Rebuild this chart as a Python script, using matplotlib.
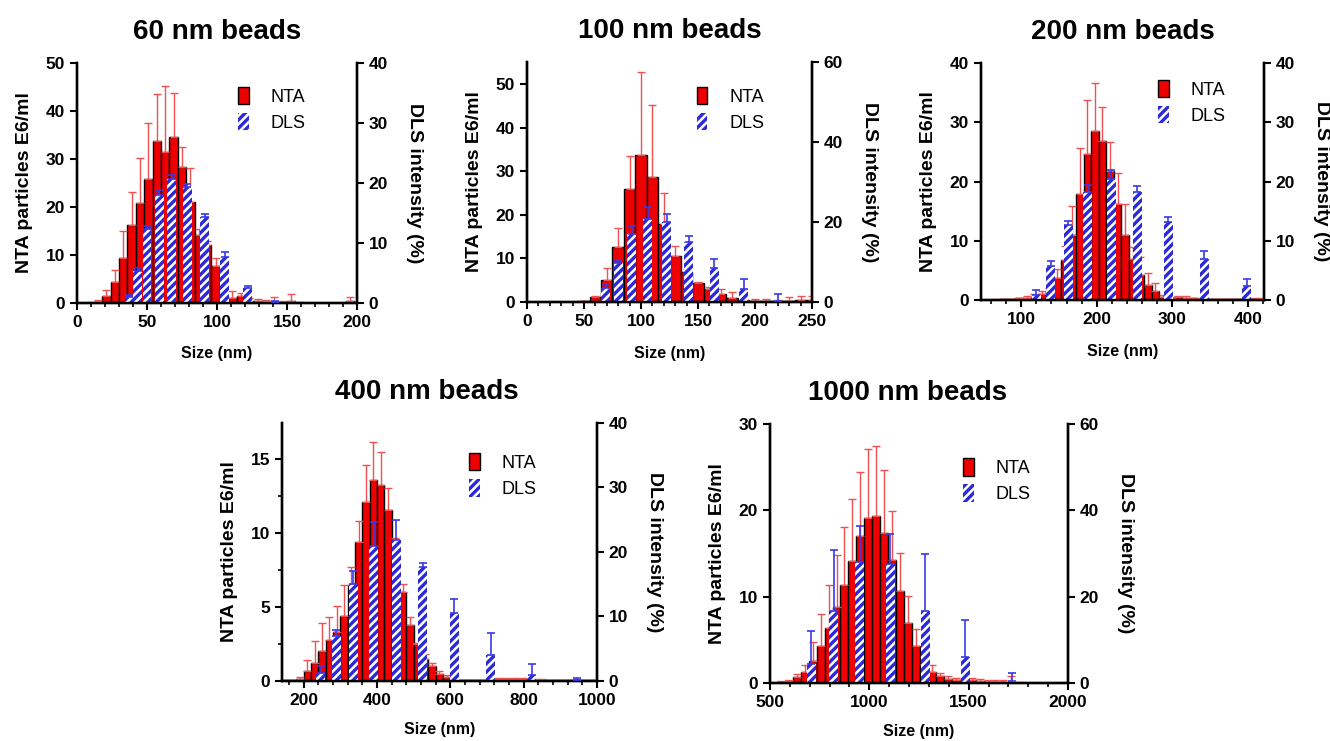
import matplotlib
matplotlib.use("Agg")
import matplotlib.pyplot as plt
from matplotlib.patches import Patch
from matplotlib.ticker import MultipleLocator
import numpy as np

plt.rcParams["font.family"] = ["Liberation Sans", "DejaVu Sans"]
plt.rcParams["hatch.linewidth"] = 2.4

RED = "#ee0000"
RED_ERR = "#f05050"
BLUE = "#2a2ad8"
BLUE_ERR = "#3a3ae6"

# ---- 60 nm beads ----
nta60_x = [9, 15, 21, 27, 33, 39, 45, 51, 57, 63, 69, 75, 81, 87, 93, 99, 105, 111,
           117, 123, 129, 135, 141, 147, 153, 159, 165, 171, 177, 183, 189, 195]
nta60_y = [0.1, 0.3, 1.5, 4.3, 9.4, 16.2, 20.8, 25.8, 33.7, 31.4, 34.5, 28.3, 21.0,
           14.2, 12.0, 7.8, 0.3, 1.0, 1.4, 0.3, 0.5, 0.3, 0.3, 0.2, 0.5, 0.1, 0.05,
           0.05, 0.05, 0.05, 0.05, 0.4]
nta60_top = [0.2, 0.6, 2.8, 6.8, 14.9, 23.1, 30.3, 37.4, 43.6, 45.3, 43.8, 32.4, 28.1,
             15.5, 13.0, 9.3, 0.5, 2.6, 2.0, 1.0, 0.8, 0.6, 1.2, 0.5, 1.8, 0.3, 0.1,
             0.1, 0.1, 0.1, 0.1, 1.2]
dls60_x = [37.4, 43.4, 50.0, 58.6, 67.6, 78.8, 91.1, 105.4, 122.0, 141.5]
dls60_y = [1.0, 5.4, 12.4, 18.0, 20.6, 19.4, 14.4, 7.7, 2.45, 0.2]
dls60_top = [1.4, 5.9, 12.8, 18.8, 21.4, 19.8, 14.8, 8.5, 2.9, 0.4]

# ---- 100 nm beads ----
nta100_x = [50, 60, 70, 80, 90, 100, 110, 120, 130, 140, 150, 160, 170, 180, 190,
            200, 210, 220, 230, 240, 250]
nta100_y = [0.2, 1.2, 5.0, 12.6, 26.0, 33.7, 28.6, 18.0, 10.6, 7.0, 4.4, 3.0, 1.8,
            1.0, 0.4, 0.3, 0.3, 0.3, 0.3, 0.5, 0.5]
nta100_top = [0.3, 1.4, 7.9, 17.1, 33.5, 52.7, 45.2, 25.1, 12.9, 7.5, 4.6, 3.5, 3.0,
              2.2, 0.6, 0.6, 0.6, 0.5, 1.2, 1.3, 1.3]
dls100_x = [69.2, 80.0, 91.8, 105.8, 122.5, 142.1, 164.4, 190.2, 220.0]
dls100_y = [3.5, 9.8, 17.1, 20.8, 20.0, 15.0, 8.6, 3.2, 0.3]
dls100_top = [4.4, 10.6, 19.0, 23.8, 21.9, 16.4, 10.8, 5.7, 1.9]

# ---- 200 nm beads ----
nta200_x = [67.5, 77.5, 87.5, 97.5, 107.5, 117.5, 127.5, 137.5, 147.5, 157.5, 167.5,
            177.5, 187.5, 197.5, 207.5, 217.5, 227.5, 237.5, 247.5, 257.5, 267.5,
            277.5, 287.5, 297.5, 307.5, 317.5, 327.5, 337.5, 347.5, 357.5, 367.5,
            377.5, 387.5, 397.5, 407.5, 417.5]
nta200_y = [0.05, 0.1, 0.1, 0.3, 0.4, 0.5, 1.0, 1.3, 3.8, 6.7, 11.0, 17.9, 24.7, 28.5,
            26.9, 21.8, 16.2, 11.0, 7.0, 4.2, 2.6, 1.6, 0.5, 0.3, 0.5, 0.4, 0.3, 0.2,
            0.1, 0.1, 0.1, 0.1, 0.1, 0.1, 0.2, 0.2]
nta200_top = [0.1, 0.2, 0.2, 0.4, 0.6, 1.0, 1.5, 2.0, 5.3, 9.1, 15.8, 25.6, 33.7, 36.6,
              32.5, 26.6, 21.4, 16.2, 9.0, 7.3, 4.6, 2.9, 0.8, 0.5, 0.7, 0.6, 0.4,
              0.3, 0.2, 0.2, 0.2, 0.2, 0.2, 0.2, 0.3, 0.3]
dls200_x = [119.8, 139.2, 162.5, 188.1, 218.9, 253.7, 294.7, 342.3, 398.3]
dls200_y = [0.85, 5.8, 12.7, 18.3, 20.4, 18.2, 13.2, 7.0, 2.3]
dls200_top = [1.7, 6.6, 13.4, 19.5, 22.0, 19.2, 14.0, 8.3, 3.5]

# ---- 400 nm beads ----
nta400_x = [150, 170, 190, 210, 230, 250, 270, 290, 310, 330, 350, 370, 390, 410, 430,
            450, 470, 490, 510, 530, 550, 570, 590, 610, 630, 650, 670, 690, 710, 730,
            750, 770, 790, 810, 830, 850, 870, 890, 910, 930, 950, 970, 990]
nta400_y = [0.05, 0.05, 0.16, 0.68, 1.2, 2.0, 2.8, 3.3, 4.4, 6.5, 9.4, 12.1, 13.6, 13.3,
            11.6, 8.5, 6.0, 3.8, 2.5, 1.5, 1.0, 0.5, 0.3, 0.1, 0.05, 0.05, 0.05, 0.05,
            0.1, 0.15, 0.15, 0.15, 0.15, 0.15, 0.1, 0.1, 0.05, 0.05, 0.05, 0.05, 0.05,
            0.05, 0.05]
nta400_top = [0.1, 0.1, 0.3, 1.4, 2.7, 3.9, 4.3, 5.1, 6.5, 7.7, 10.8, 14.6, 16.2, 15.5,
              13.1, 9.7, 6.6, 4.3, 2.6, 1.8, 1.2, 0.7, 0.4, 0.2, 0.1, 0.1, 0.1, 0.1,
              0.15, 0.2, 0.2, 0.2, 0.2, 0.2, 0.15, 0.15, 0.1, 0.1, 0.1, 0.1, 0.1,
              0.1, 0.1]
dls400_x = [247, 289, 335, 391, 453, 525, 611, 711, 822, 945]
dls400_y = [1.25, 6.95, 15.1, 21.0, 21.9, 17.6, 10.5, 4.0, 0.9, 0.1]
dls400_top = [2.3, 7.9, 17.0, 24.6, 25.0, 18.3, 12.7, 7.5, 2.6, 0.4]

# ---- 1000 nm beads ----
nta1000_x = [555, 595, 635, 675, 715, 755, 795, 835, 875, 915, 955, 995, 1035, 1075,
             1115, 1155, 1195, 1235, 1275, 1315, 1355, 1395, 1435, 1475, 1515, 1555,
             1595, 1635, 1675, 1715, 1755]
nta1000_y = [0.1, 0.2, 0.7, 1.3, 2.5, 4.3, 6.4, 8.8, 11.3, 14.1, 17.0, 19.1, 19.3, 17.4,
             14.2, 10.6, 7.0, 4.3, 2.2, 1.3, 0.8, 0.5, 0.4, 0.3, 0.3, 0.2, 0.15, 0.1,
             0.1, 0.1, 0.05]
nta1000_top = [0.2, 0.4, 1.0, 2.1, 4.7, 8.0, 11.3, 14.8, 18.1, 21.3, 24.4, 27.1, 27.5,
               24.7, 19.9, 15.0, 10.1, 6.3, 3.0, 2.05, 1.1, 0.8, 0.6, 0.5, 0.6, 0.5,
               0.4, 0.3, 0.3, 0.8, 0.1]
dls1000_x = [707, 822, 953, 1105, 1281, 1482, 1718]
dls1000_y = [4.3, 16.6, 28.1, 27.5, 16.6, 6.0, 0.5]
dls1000_top = [12.0, 30.8, 36.4, 34.4, 29.8, 14.7, 2.2]


def draw_panel(rect, title, title_x, nta, dls, nta_w, dls_w, xlim, xmajor, xminor,
               ylim, yticks, y2lim, y2ticks, leg_xy, yminor=None, xpad=12):
    ax = fig.add_axes(rect)
    nx, ny, ntop = (np.array(v, dtype=float) for v in nta)
    dx, dy, dtop = (np.array(v, dtype=float) for v in dls)

    # NTA: rote Balken, Fehlerbalken nur nach oben
    ax.bar(nx, ny, width=nta_w, color=RED, edgecolor="black", linewidth=1.0, zorder=2)
    ax.errorbar(nx, ny, yerr=[np.zeros_like(ny), ntop - ny], fmt="none", ecolor=RED_ERR,
                elinewidth=1.0, capsize=3, capthick=1.0, zorder=3)

    # DLS auf der rechten Achse, weiss hinterlegt und schraffiert
    ax2 = ax.twinx()
    ax2.bar(dx, dy, width=dls_w, color="white", edgecolor=BLUE, hatch="////",
            linewidth=0, zorder=2)
    ax2.errorbar(dx, dy, yerr=[np.zeros_like(dy), dtop - dy], fmt="none",
                 ecolor=BLUE_ERR, elinewidth=1.2, capsize=3, capthick=1.2, zorder=3)

    ax.set_xlim(*xlim)
    ax.set_ylim(*ylim)
    ax2.set_ylim(*y2lim)
    ax.set_yticks(yticks)
    ax2.set_yticks(y2ticks)
    ax.xaxis.set_major_locator(MultipleLocator(xmajor))
    ax.xaxis.set_minor_locator(MultipleLocator(xminor))
    if yminor:
        ax.yaxis.set_minor_locator(MultipleLocator(yminor))

    for a in (ax, ax2):
        a.spines["top"].set_visible(False)
        for s in ("left", "right", "bottom"):
            a.spines[s].set_linewidth(1.7)
        a.tick_params(which="major", direction="out", length=5, width=1.5,
                      labelsize=12.5)
        a.tick_params(which="minor", direction="out", length=3, width=1.2)
        for lab in a.get_xticklabels() + a.get_yticklabels():
            lab.set_fontweight("bold")

    ax.set_xlabel("Size (nm)", fontsize=11.5, fontweight="bold", labelpad=xpad)
    ax.set_ylabel("NTA particles E6/ml", fontsize=14, fontweight="bold", labelpad=9)
    ax2.set_ylabel("DLS intensity (%)", fontsize=14, fontweight="bold",
                   rotation=270, labelpad=25)
    ax.set_title(title, fontsize=20, fontweight="bold", x=title_x, pad=17)

    handles = [Patch(facecolor=RED, edgecolor="black", linewidth=1.0),
               Patch(facecolor="white", edgecolor=BLUE, hatch="////", linewidth=0)]
    ax2.legend(handles, ["NTA", "DLS"], loc="upper left", bbox_to_anchor=leg_xy,
               frameon=False, fontsize=13, handlelength=0.6, handleheight=1.1,
               handletextpad=1.2, labelspacing=0.4, borderpad=0, borderaxespad=0)
    return ax, ax2


fig = plt.figure(figsize=(13.3, 7.41), dpi=100)

draw_panel([0.0579, 0.5911, 0.2105, 0.3239], "60 nm beads", 0.5,
           (nta60_x, nta60_y, nta60_top), (dls60_x, dls60_y, dls60_top),
           6, 6.4, (0, 200), 50, 10, (0, 50), range(0, 51, 10),
           (0, 40), range(0, 41, 10), (0.575, 0.90))

draw_panel([0.3962, 0.5924, 0.2143, 0.3239], "100 nm beads", 0.5,
           (nta100_x, nta100_y, nta100_top), (dls100_x, dls100_y, dls100_top),
           10, 7.9, (0, 250), 50, 10, (0, 55.1), range(0, 51, 10),
           (0, 60), range(0, 61, 20), (0.595, 0.897))

draw_panel([0.7376, 0.5951, 0.2128, 0.3198], "200 nm beads", 0.5,
           (nta200_x, nta200_y, nta200_top), (dls200_x, dls200_y, dls200_top),
           10, 11.9, (47, 421), 100, 20, (0, 40), range(0, 41, 10),
           (0, 40), range(0, 41, 10), (0.627, 0.928))

draw_panel([0.2120, 0.0810, 0.2368, 0.3482], "400 nm beads", 0.46,
           (nta400_x, nta400_y, nta400_top), (dls400_x, dls400_y, dls400_top),
           20, 24.5, (141, 1000), 200, 40, (0, 17.47), [0, 5, 10, 15],
           (0, 40), range(0, 41, 10), (0.595, 0.883), yminor=2.5, xpad=10)

draw_panel([0.5789, 0.0783, 0.2241, 0.3495], "1000 nm beads", 0.463,
           (nta1000_x, nta1000_y, nta1000_top), (dls1000_x, dls1000_y, dls1000_top),
           40, 45, (500, 2000), 500, 100, (0, 30), range(0, 31, 10),
           (0, 60), range(0, 61, 20), (0.649, 0.868), xpad=10)

fig.savefig("out.png", dpi=100)
